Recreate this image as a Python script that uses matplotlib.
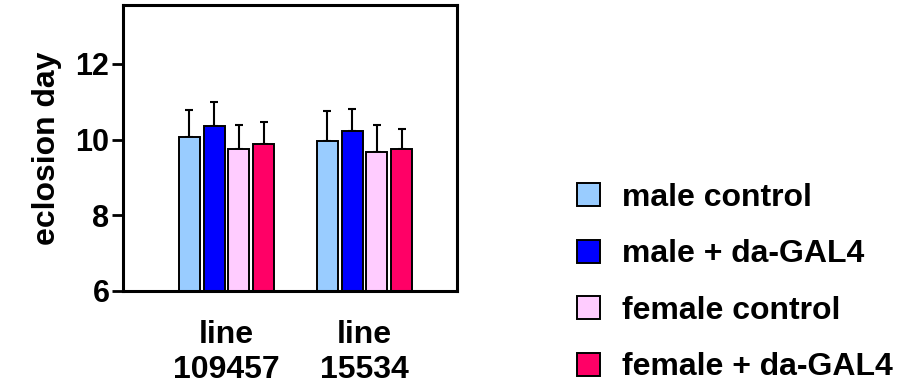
import numpy as np
import matplotlib
matplotlib.use("Agg")
import matplotlib.pyplot as plt

# data
groups = ["line\n109457", "line\n15534"]
series = ["male control", "male + da-GAL4", "female control", "female + da-GAL4"]
colors = ["#99CCFF", "#0000FF", "#FFCCFF", "#FF0066"]
means = [
    [10.07, 9.95],
    [10.35, 10.23],
    [9.75, 9.66],
    [9.89, 9.74],
]
upper = [
    [10.77, 10.75],
    [10.99, 10.81],
    [10.38, 10.38],
    [10.46, 10.29],
]

plt.rcParams["font.family"] = ["Liberation Sans", "DejaVu Sans"]
plt.rcParams["font.weight"] = "bold"

fig = plt.figure(figsize=(9.07, 3.92), dpi=100)
ax = fig.add_axes([0.136, 0.2577, 0.368, 0.7293])

x = np.arange(len(groups))
step = 0.179
width = 0.152
for i, name in enumerate(series):
    pos = x + (i - 1.5) * step
    m = np.array(means[i])
    err = np.array(upper[i]) - m
    ax.bar(pos, m, width, color=colors[i], edgecolor="black", linewidth=1.4,
           label=name, zorder=2)
    ax.errorbar(pos, m, yerr=[np.zeros_like(err), err], fmt="none",
                ecolor="black", elinewidth=1.5, capsize=3, capthick=1.5, zorder=1)

ax.set_xlim(-0.746, 1.67)
ax.set_ylim(6, 13.55)
ax.set_yticks([6, 8, 10, 12])
ax.set_xticks(x)
ax.set_xticklabels(groups, fontsize=23, fontweight="bold", linespacing=1.2)
ax.tick_params(axis="x", length=0, pad=21)
ax.tick_params(axis="y", length=8, width=2, labelsize=22, pad=2)
for lbl in ax.get_yticklabels():
    lbl.set_fontweight("bold")
for sp in ax.spines.values():
    sp.set_linewidth(2.2)
ax.set_ylabel("eclosion day", fontsize=23, fontweight="bold", labelpad=10)

ax.legend(loc="center left", bbox_to_anchor=(0.636, 0.279),
          bbox_transform=fig.transFigure, frameon=False,
          prop={"size": 23, "weight": "bold"},
          handlelength=0.72, handleheight=0.72, handletextpad=0.69,
          labelspacing=0.83, borderaxespad=0, borderpad=0)

fig.savefig("out.png", dpi=100)
